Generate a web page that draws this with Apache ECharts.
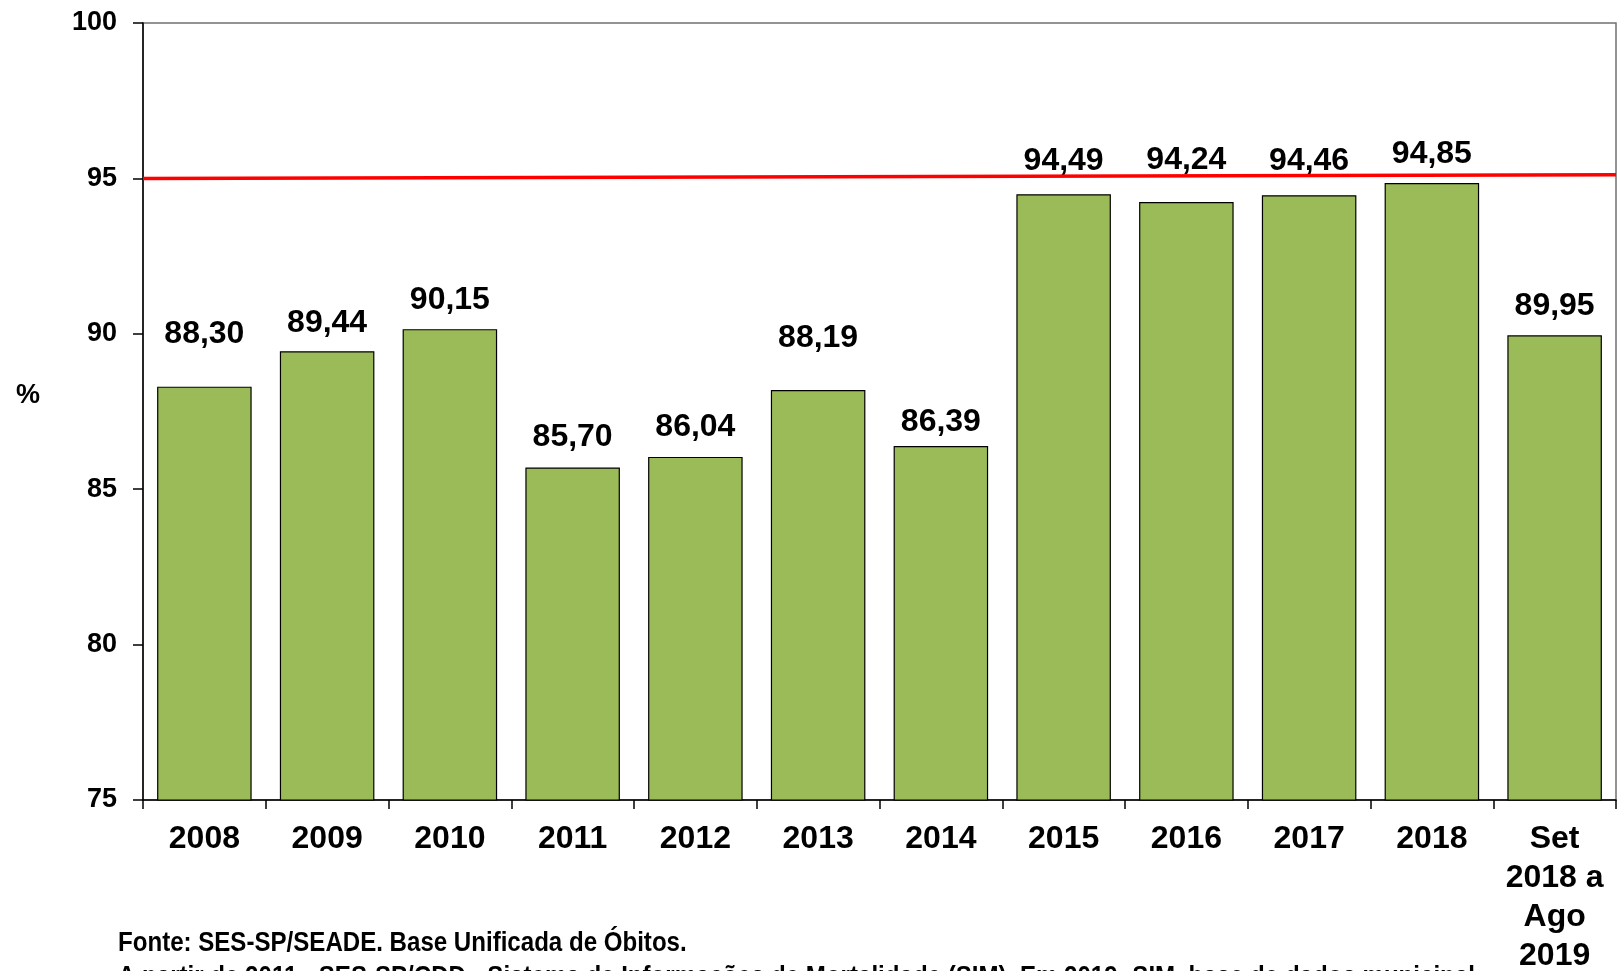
<!DOCTYPE html>
<html>
<head>
<meta charset="utf-8">
<script src="https://cdn.jsdelivr.net/npm/echarts@6/dist/echarts.min.js"></script>
<style>
  html, body { margin: 0; padding: 0; background: #ffffff; }
  #chart { width: 1618px; height: 971px; }
</style>
</head>
<body>
<div id="chart"></div>
<script>
// Categories (years) and percentages
const categories = ['2008', '2009', '2010', '2011', '2012', '2013', '2014', '2015', '2016', '2017', '2018', 'Set\n2018 a\nAgo\n2019'];
const values = [88.30, 89.44, 90.15, 85.70, 86.04, 88.19, 86.39, 94.49, 94.24, 94.46, 94.85, 89.95];

// Target line (95%) endpoints across the plot
const targetLine = [[0, 95.0], [1, 95.12]];

// Y axis range
const yMin = 75;
const yMax = 100;
const yStep = 5;

const footnotes = [
  'Fonte: SES-SP/SEADE. Base Unificada de Óbitos.',
  'A partir de 2011 - SES-SP/CDD - Sistema de Informações de Mortalidade (SIM). Em 2019: SIM, base de dados municipal'
];

const fmt = v => v.toFixed(2).replace('.', ',');

// extra spacing above particular bars so labels sit where they were placed
const labelDistance = [36, 12, 13, 14, 14, 36, 8, 17, 26, 18, 13, 13];

const chart = echarts.init(document.getElementById('chart'), null, { renderer: 'canvas' });

const font = '"Liberation Sans", Arial, sans-serif';

chart.setOption({
  backgroundColor: '#ffffff',
  animation: false,
  grid: {
    left: 143, right: 2, top: 23, bottom: 171,
    containLabel: false, outerBoundsMode: 'none',
    show: true, borderColor: '#707070', borderWidth: 1.5, backgroundColor: 'transparent'
  },
  xAxis: [
    {
      type: 'category',
      data: categories,
      boundaryGap: true,
      axisLine: { show: true, lineStyle: { color: '#000', width: 1.5 } },
      axisTick: { show: true, length: 9, alignWithLabel: false, lineStyle: { color: '#000', width: 1.5 } },
      axisLabel: {
        interval: 0, margin: 20, color: '#000', fontFamily: font, fontWeight: 'bold',
        fontSize: 32, lineHeight: 39
      }
    },
    {
      type: 'value', min: 0, max: 1, show: false, position: 'top'
    }
  ],
  yAxis: {
    type: 'value',
    min: yMin, max: yMax, interval: yStep,
    splitLine: { show: false },
    axisLine: { show: true, lineStyle: { color: '#000', width: 1.5 } },
    axisTick: { show: true, inside: false, length: 10, lineStyle: { color: '#000', width: 1.5 } },
    axisLabel: { margin: 26, color: '#000', fontFamily: font, fontWeight: 'bold', fontSize: 27 }
  },
  series: [
    {
      type: 'bar',
      xAxisIndex: 0,
      data: values.map((v, i) => ({
        value: v,
        label: { distance: labelDistance[i] }
      })),
      barCategoryGap: '23%',
      itemStyle: { color: '#9bbb59', borderColor: '#000', borderWidth: 1.2 },
      label: {
        show: true, position: 'top', color: '#000', fontFamily: font,
        fontWeight: 'bold', fontSize: 32, lineHeight: 32,
        formatter: p => fmt(p.value)
      },
      z: 2
    },
    {
      type: 'line',
      xAxisIndex: 1,
      data: targetLine,
      symbol: 'none',
      lineStyle: { color: '#ff0000', width: 3.5 },
      z: 5,
      silent: true
    }
  ],
  graphic: [
    {
      type: 'text', left: 16, top: 382,
      style: { text: '%', fill: '#000', font: 'bold 27px "Liberation Sans", Arial, sans-serif' }
    },
    {
      type: 'text', x: 118, y: 926, scaleX: 0.86, scaleY: 1,
      style: {
        text: footnotes.join('\n'), fill: '#000', lineHeight: 34,
        font: 'bold 28px "Liberation Sans", Arial, sans-serif'
      }
    }
  ]
});
</script>
</body>
</html>
